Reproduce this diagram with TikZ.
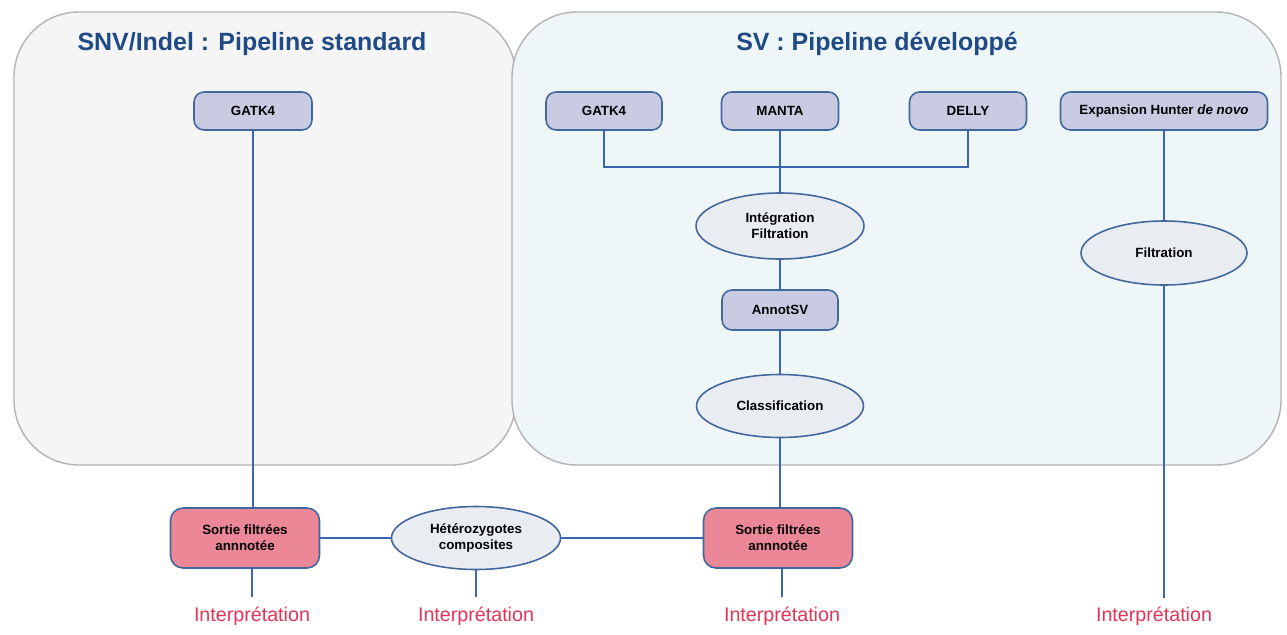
\documentclass[tikz,border=0pt]{standalone}
\usepackage{fontspec}
\setmainfont{Liberation Sans}
\usetikzlibrary{shapes.geometric}
\definecolor{panelgray}{HTML}{F5F5F5}
\definecolor{panelblue}{HTML}{EEF6F8}
\definecolor{panelline}{HTML}{B4B4B4}
\definecolor{titleblue}{HTML}{1F4A86}
\definecolor{boxfill}{HTML}{C9CBE3}
\definecolor{nodeline}{HTML}{41679C}
\definecolor{ellfill}{HTML}{E9ECF0}
\definecolor{outfill}{HTML}{EC8798}
\definecolor{linkblue}{HTML}{3A66AE}
\definecolor{interpred}{HTML}{E23556}
\tikzset{
  panel/.style={draw=panelline, line width=0.8pt, rounded corners=1.3cm},
  title/.style={text=titleblue, font=\bfseries\fontsize{14.2}{17}\selectfont},
  tool/.style={draw=nodeline, fill=boxfill, line width=0.9pt, rounded corners=0.2cm,
    minimum height=0.76cm, inner sep=2pt, font=\bfseries\fontsize{7.6}{9}\selectfont},
  stage/.style={ellipse, draw=nodeline, fill=ellfill, line width=0.9pt, inner sep=0pt,
    align=center, font=\bfseries\fontsize{7.6}{9.2}\selectfont},
  result/.style={draw=nodeline, fill=outfill, line width=0.9pt, rounded corners=0.25cm,
    minimum width=2.98cm, minimum height=1.2cm, align=center,
    font=\bfseries\fontsize{7.6}{9.2}\selectfont},
  interp/.style={text=interpred, font=\fontsize{11.2}{13}\selectfont, inner sep=1pt},
  link/.style={draw=linkblue, line width=0.9pt},
}
\begin{document}
\begin{tikzpicture}[x=0.02cm, y=-0.02cm]
\useasboundingbox (0,0) rectangle (1287,635);
\fill[white] (0,0) rectangle (1287,635);

% two pipeline panels
\draw[panel, fill=panelgray] (14,12) rectangle (516,465);
\draw[panel, fill=panelblue] (512,12) rectangle (1281,465);
\node[title] (t1) at (252,44) {SNV/Indel : Pipeline standard};
\node[title] (t2) at (877,44) {SV : Pipeline développé};

% callers
\node[tool, minimum width=2.36cm] (ga) at (253,111) {GATK4};
\node[tool, minimum width=2.32cm] (gb) at (604,111) {GATK4};
\node[tool, minimum width=2.34cm] (ma) at (780,111) {MANTA};
\node[tool, minimum width=2.34cm] (de) at (968,111) {DELLY};
\node[tool, minimum width=4.14cm] (eh) at (1164,111) {Expansion Hunter \textit{de novo}};

% SV processing chain
\node[stage, minimum width=3.36cm, minimum height=1.32cm] (ig) at (780,226) {Intégration\\Filtration};
\node[tool, minimum width=2.32cm, minimum height=0.8cm] (an) at (780,310) {AnnotSV};
\node[stage, minimum width=3.34cm, minimum height=1.26cm] (cl) at (780,406) {Classification};
\node[stage, minimum width=3.32cm, minimum height=1.28cm] (fi) at (1164,253) {Filtration};

% outputs
\node[result] (sa) at (245,538) {Sortie filtrées\\annnotée};
\node[stage, minimum width=3.38cm, minimum height=1.26cm] (he) at (476,538) {Hétérozygotes\\composites};
\node[result] (sb) at (778,538) {Sortie filtrées\\annnotée};

% interpretation labels
\node[interp, anchor=north] (ia) at (252,605) {Interprétation};
\node[interp, anchor=north] (ib) at (476,605) {Interprétation};
\node[interp, anchor=north] (ic) at (782,605) {Interprétation};
\node[interp, anchor=north] (id) at (1154,605) {Interprétation};
\coordinate (ea) at (252,597);
\coordinate (eb) at (476,597);
\coordinate (ec) at (782,597);
\coordinate (ed) at (1164,598);
\coordinate (bar) at (780,167);

% connectors
\draw[link] (ga.south) -- (ga.south |- sa.north);
\draw[link] (gb.south) |- (bar) -| (de.south);
\draw[link] (ma.south) -- (ig.north);
\draw[link] (ig.south) -- (an.north);
\draw[link] (an.south) -- (cl.north);
\draw[link] (cl.south) -- (cl.south |- sb.north);
\draw[link] (eh.south) -- (fi.north);
\draw[link] (fi.south) -- (ed);
\draw[link] (sa.east) -- (he.west);
\draw[link] (he.east) -- (sb.west);
\draw[link] (sa.south -| ea) -- (ea);
\draw[link] (he.south) -- (eb);
\draw[link] (sb.south -| ec) -- (ec);
\end{tikzpicture}
\end{document}
